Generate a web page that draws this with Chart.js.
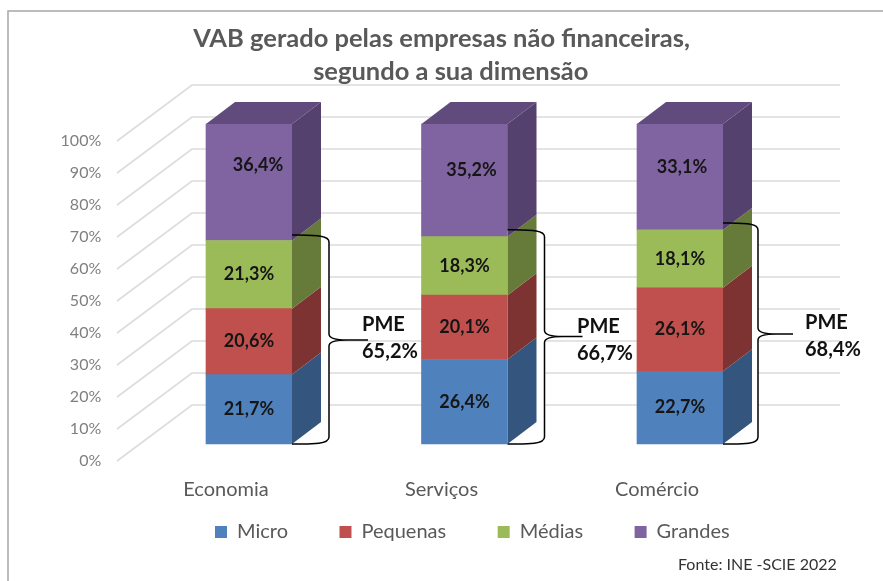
<!DOCTYPE html>
<html lang="pt">
<head>
<meta charset="utf-8">
<style>html,body{margin:0;padding:0;background:#fff}#wrap{width:883px;height:581px}</style>
<script src="https://cdn.jsdelivr.net/npm/chart.js@4/dist/chart.umd.min.js"></script>
</head>
<body>
<div id="wrap"><canvas id="c"></canvas></div>
<script>
const titleLines = ['VAB gerado pelas empresas não financeiras,', 'segundo a sua dimensão'];
const categories = ['Economia', 'Serviços', 'Comércio'];
const micro = [21.7, 26.4, 22.7];
const pequenas = [20.6, 20.1, 26.1];
const medias = [21.3, 18.3, 18.1];
const grandes = [36.4, 35.2, 33.1];
const tickValues = [0, 10, 20, 30, 40, 50, 60, 70, 80, 90, 100];
const pmeTotals = ['65,2%', '66,7%', '68,4%'];
const sourceNote = 'Fonte: INE -SCIE 2022';

const FONT = 'Lato, Carlito, sans-serif';
const GREY = '#595959';
const frontColors = ['#4f81bd', '#c0504d', '#9bbb59', '#8064a2'];
const sideColors = ['#34557e', '#7d3331', '#667a39', '#54416d'];
const topColor = '#614b7c';
const DEPTH = {dx: 29, dy: 22};
const WALL = {dx: 75, dy: 56, left: 117, right: 840};
const labelShift = [[0,0,0,[9,-17]], [0,0,0,[7,-10]], [0,0,0,[2,-10]]];
const brace = [{lift: 5.5, arm: 37, tip: 76, tipY: 340, tx: 362, ty: 325},
               {lift: 7, arm: 37, tip: 75, tipY: 336.5, tx: 577, ty: 327},
               {lift: 7, arm: 35, tip: 70, tipY: 334, tx: 805, ty: 323}];

const legendPlace = {
  id: 'legendPlace',
  beforeLayout(chart) {
    const lg = chart.legend;
    if (!lg._fitWrapped) {
      const f = lg.fit;
      lg.fit = function () { f.call(this); this.height = 0; };
      lg._fitWrapped = true;
    }
  },
  afterLayout(chart) {
    const lg = chart.legend;
    lg.left = 215 - 51.5; lg.right = 883; lg.top = 470.5;
    chart.titleBlock.left = 0; chart.titleBlock.right = 883;
  }
};

function bracePath(c, x0, top, bot, g, withTip) {
  const xv = x0 + g.arm, ym = g.tipY;
  c.beginPath();
  c.moveTo(x0, top);
  c.bezierCurveTo(x0 + 22, top + 0.5, xv, top, xv, top + 7);
  c.lineTo(xv, ym - 6);
  c.bezierCurveTo(xv, ym - 1, xv + 8, ym, xv + 18, ym);
  if (withTip) {
    c.lineTo(x0 + g.tip, ym);
    c.moveTo(xv + 18, ym);
  }
  c.bezierCurveTo(xv + 8, ym, xv, ym + 1, xv, ym + 6);
  c.lineTo(xv, bot - 7);
  c.bezierCurveTo(xv, bot, x0 + 22, bot + 0.5, x0, bot);
}

const scene = {
  id: 'scene',
  beforeDraw(chart) {
    const c = chart.ctx;
    c.save();
    c.fillStyle = '#fff';
    c.fillRect(0, 0, chart.width, chart.height);
    c.strokeStyle = '#a6a6a6';
    c.lineWidth = 1.5;
    c.beginPath();
    c.moveTo(8, chart.height);
    c.lineTo(8, 11);
    c.lineTo(chart.width, 11);
    c.stroke();
    c.restore();
  },
  beforeDatasetsDraw(chart) {
    const c = chart.ctx, s = chart.scales.yL;
    c.save();
    c.strokeStyle = '#dcdcdc';
    c.lineWidth = 1.6;
    s.ticks.forEach(t => {
      const y = s.getPixelForValue(t.value);
      c.beginPath();
      c.moveTo(WALL.left, y);
      c.lineTo(WALL.left + WALL.dx, y - WALL.dy);
      c.lineTo(WALL.right, y - WALL.dy);
      c.stroke();
    });
    c.restore();
  },
  afterDatasetsDraw(chart) {
    const c = chart.ctx, y = chart.scales.y;
    c.save();
    const braces = categories.map((cat, j) => {
      const b0 = chart.getDatasetMeta(0).data[j];
      const sum = micro[j] + pequenas[j] + medias[j];
      return {x0: b0.x + b0.width / 2, top: y.getPixelForValue(sum) - brace[j].lift, bot: y.getPixelForValue(0), g: brace[j]};
    });
    c.fillStyle = '#fff';
    braces.forEach(b => {
      bracePath(c, b.x0, b.top, b.bot, b.g, false);
      c.closePath();
      c.fill();
    });
    chart.data.datasets.forEach((ds, i) => {
      chart.getDatasetMeta(i).data.forEach(b => {
        const r = b.x + b.width / 2, l = b.x - b.width / 2;
        c.fillStyle = sideColors[i];
        c.beginPath();
        c.moveTo(r, b.base);
        c.lineTo(r + DEPTH.dx, b.base - DEPTH.dy);
        c.lineTo(r + DEPTH.dx, b.y - DEPTH.dy);
        c.lineTo(r, b.y);
        c.closePath();
        c.fill();
        if (i === chart.data.datasets.length - 1) {
          c.fillStyle = topColor;
          c.beginPath();
          c.moveTo(l, b.y);
          c.lineTo(l + DEPTH.dx, b.y - DEPTH.dy);
          c.lineTo(r + DEPTH.dx, b.y - DEPTH.dy);
          c.lineTo(r, b.y);
          c.closePath();
          c.fill();
        }
      });
    });
    c.textAlign = 'center';
    c.textBaseline = 'middle';
    c.fillStyle = '#151515';
    c.font = 'bold 18px ' + FONT;
    chart.data.datasets.forEach((ds, i) => {
      chart.getDatasetMeta(i).data.forEach((b, j) => {
        const sh = labelShift[j][i] || [0, 0];
        const v = ds.data[j].toFixed(1).replace('.', ',') + '%';
        c.fillText(v, b.x + sh[0], (b.y + b.base) / 2 + sh[1]);
      });
    });
    c.strokeStyle = '#000';
    c.lineWidth = 1.5;
    c.fillStyle = '#111';
    c.font = 'bold 20px ' + FONT;
    c.textAlign = 'left';
    braces.forEach((b, j) => {
      bracePath(c, b.x0, b.top, b.bot, b.g, true);
      c.stroke();
      c.fillText('PME', b.g.tx, b.g.ty);
      c.fillText(pmeTotals[j], b.g.tx, b.g.ty + 27);
    });
    c.font = '16px ' + FONT;
    c.fillStyle = '#333';
    c.fillText(sourceNote, 678, 565);
    c.restore();
  }
};

new Chart(document.getElementById('c'), {
  type: 'bar',
  data: {
    labels: categories,
    datasets: [
      {label: 'Micro', data: micro, backgroundColor: frontColors[0]},
      {label: 'Pequenas', data: pequenas, backgroundColor: frontColors[1]},
      {label: 'Médias', data: medias, backgroundColor: frontColors[2]},
      {label: 'Grandes', data: grandes, backgroundColor: frontColors[3]}
    ]
  },
  plugins: [legendPlace, scene],
  options: {
    responsive: true,
    maintainAspectRatio: false,
    animation: false,
    events: [],
    layout: {padding: {left: 51.25, right: 95.25, top: 0, bottom: 0}},
    datasets: {bar: {barThickness: 86, borderWidth: 0}},
    plugins: {
      tooltip: {enabled: false},
      title: {
        display: true,
        text: [titleLines[0], '   ' + titleLines[1]],
        color: GREY,
        font: {family: FONT, size: 25.5, weight: 'bold', lineHeight: 1.294},
        padding: {top: 22, bottom: -4}
      },
      legend: {
        position: 'bottom',
        align: 'start',
        labels: {boxWidth: 12, boxHeight: 12, padding: 51.5, color: GREY, font: {family: FONT, size: 20}}
      }
    },
    scales: {
      x: {
        stacked: true,
        grid: {display: false, drawTicks: false},
        border: {display: false},
        afterFit(s) { s.height = 120; },
        ticks: {padding: 17, labelOffset: -23, color: GREY, font: {family: FONT, size: 20}, maxRotation: 0}
      },
      y: {stacked: true, display: false, min: -5.3125, max: 112.5},
      yL: {
        position: 'left',
        min: 0,
        max: 117.8125,
        afterBuildTicks(s) { s.ticks = tickValues.map(v => ({value: v})); },
        afterFit(s) { s.width = 90; },
        grid: {display: false, drawTicks: false},
        border: {display: false},
        ticks: {padding: 40, color: '#808080', font: {family: FONT, size: 16}, callback: v => v + '%'}
      }
    }
  }
});
</script>
</body>
</html>
